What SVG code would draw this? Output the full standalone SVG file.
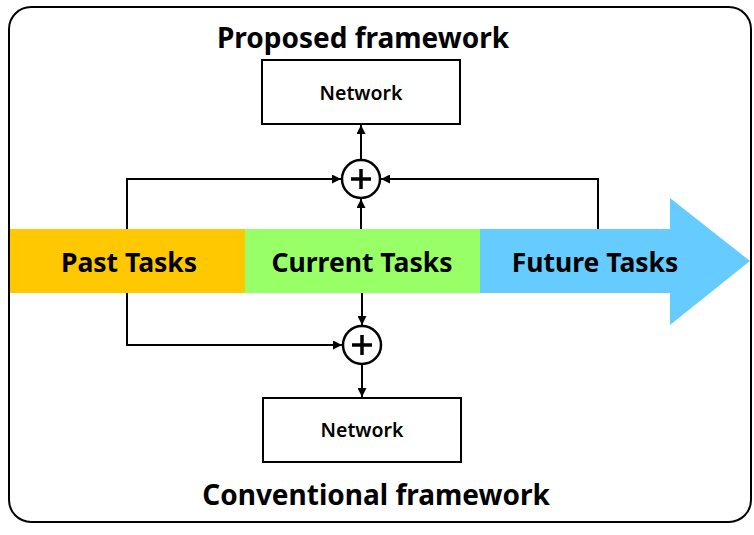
<svg xmlns="http://www.w3.org/2000/svg" width="754" height="535" viewBox="0 0 754 535">
<style>
.t{font-family:"Noto Sans","Liberation Sans",sans-serif;font-weight:bold;fill:#000;text-anchor:middle}
.title{font-size:28px}
.task{font-size:26.5px}
.net{font-size:19.5px;font-weight:600}
.box{fill:#fff;stroke:#000;stroke-width:2}
.c{fill:none;stroke:#000;stroke-width:2}
.circ{fill:#fff;stroke:#000;stroke-width:2.5}
.plus{fill:none;stroke:#000;stroke-width:3.5}
</style>
<defs>
<marker id="ah" viewBox="0 0 10 10" refX="10" refY="5" markerWidth="9" markerHeight="9" markerUnits="userSpaceOnUse" orient="auto">
<path d="M0,0 L10,5 L0,10 z" fill="#000"/>
</marker>
</defs>
<rect x="9" y="7" width="742" height="515" rx="22" ry="22" fill="#fff" stroke="#000" stroke-width="2"/>
<g id="band">
<rect x="10" y="229" width="236" height="64" fill="#FFC800"/>
<rect x="245" y="229" width="236" height="64" fill="#99FF66"/>
<polygon points="480,229 670,229 670,198 750,261 670,325 670,293 480,293" fill="#66CCFF"/>
</g>
<g id="past"><text class="t task" x="129" y="272">Past Tasks</text></g>
<g id="current"><text class="t task" x="362" y="272">Current Tasks</text></g>
<g id="future"><text class="t task" x="595" y="272">Future Tasks</text></g>
<g id="title-proposed"><text class="t title" x="363" y="48">Proposed framework</text></g>
<g id="title-conventional"><text class="t title" x="376" y="505">Conventional framework</text></g>
<g id="net-top"><rect class="box" x="262" y="60" width="198" height="64"/><text class="t net" x="361" y="100">Network</text></g>
<g id="net-bottom"><rect class="box" x="263" y="398" width="198" height="64"/><text class="t net" x="362" y="437">Network</text></g>
<g id="sum-top"><circle class="circ" cx="361" cy="179" r="19"/><path class="plus" d="M351,179 H371 M361,169 V189"/></g>
<g id="sum-bottom"><circle class="circ" cx="362" cy="345" r="19"/><path class="plus" d="M352,345 H372 M362,335 V355"/></g>
<g id="connectors">
<path class="c" d="M127,229 V179 H341" marker-end="url(#ah)"/>
<path class="c" d="M598,229 V179 H381" marker-end="url(#ah)"/>
<path class="c" d="M361,229 V199" marker-end="url(#ah)"/>
<path class="c" d="M361,160 V125" marker-end="url(#ah)"/>
<path class="c" d="M127,293 V345 H342" marker-end="url(#ah)"/>
<path class="c" d="M362,293 V325" marker-end="url(#ah)"/>
<path class="c" d="M362,365 V397" marker-end="url(#ah)"/>
</g>
</svg>
